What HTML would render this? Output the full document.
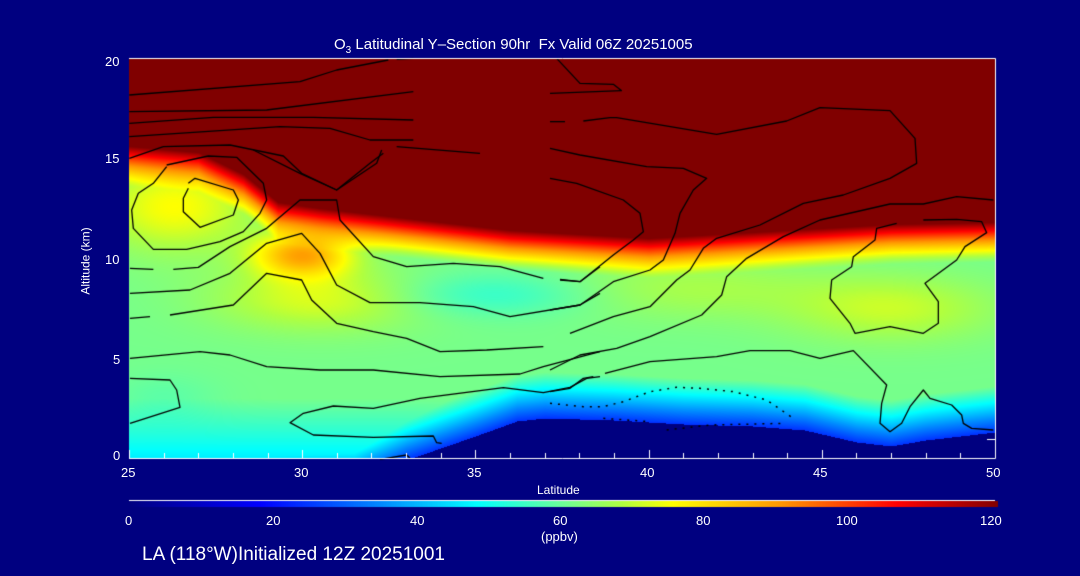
<!DOCTYPE html>
<html><head><meta charset="utf-8"><style>
html,body{margin:0;padding:0;background:#000080;}
#w{position:relative;width:1080px;height:576px;overflow:hidden;background:#000080;font-family:"Liberation Sans",sans-serif;color:#fff;}
.t{position:absolute;white-space:nowrap;font-size:13px;line-height:1;}
canvas{position:absolute;left:0;top:0;}
</style></head><body><div id="w">
<canvas id="c" width="1080" height="576"></canvas>
<div class="t" style="left:334px;top:37px;font-size:15px;">O<sub style="font-size:10px;">3</sub> Latitudinal Y&#8211;Section 90hr&nbsp; Fx Valid 06Z 20251005</div>
<div class="t" style="left:105px;top:55px;">20</div>
<div class="t" style="left:105px;top:152px;">15</div>
<div class="t" style="left:105px;top:253px;">10</div>
<div class="t" style="left:113px;top:353px;">5</div>
<div class="t" style="left:113px;top:449px;">0</div>
<div class="t" style="left:52px;top:255px;transform:rotate(-90deg);font-size:12px;">Altitude (km)</div>
<div class="t" style="left:121px;top:466px;">25</div>
<div class="t" style="left:294px;top:466px;">30</div>
<div class="t" style="left:467px;top:466px;">35</div>
<div class="t" style="left:640px;top:466px;">40</div>
<div class="t" style="left:813px;top:466px;">45</div>
<div class="t" style="left:986px;top:466px;">50</div>
<div class="t" style="left:537px;top:484px;font-size:12px;">Latitude</div>
<div class="t" style="left:125px;top:514px;">0</div>
<div class="t" style="left:266px;top:514px;">20</div>
<div class="t" style="left:410px;top:514px;">40</div>
<div class="t" style="left:553px;top:514px;">60</div>
<div class="t" style="left:696px;top:514px;">80</div>
<div class="t" style="left:836px;top:514px;">100</div>
<div class="t" style="left:980px;top:514px;">120</div>
<div class="t" style="left:541px;top:530px;">(ppbv)</div>
<div class="t" style="left:142px;top:545px;font-size:19px;">LA (118°W)Initialized 12Z 20251001</div>
</div>
<script>
const cv=document.getElementById('c'),ctx=cv.getContext('2d');
const X0=129,X1=995,Y0=58,Y1=458;
const sx=(X1-X0)/25, sy=(Y1-Y0)/20;
function pl(pts,x){for(let i=0;i<pts.length-1;i++){if(x<=pts[i+1][0]){const a=pts[i],b=pts[i+1];return a[1]+(b[1]-a[1])*(x-a[0])/(b[0]-a[0]);}}return pts[pts.length-1][1];}
const trop=[[25,15.6],[27,15.3],[28.3,14.2],[29.3,12.8],[30.5,12.5],[33,12.0],[36,11.4],[40,11.0],[44,11.4],[47,11.7],[50,11.8]];
const terr=[[25,-1.5],[31.5,-1.2],[33,-0.1],[34,0.5],[35,1.1],[36.2,1.85],[37,2.0],[39,1.9],[41,1.7],[43,1.6],[44.5,1.4],[46,0.8],[47,0.6],[48,0.9],[50,1.3]];
const stops=[[0,[0,0,128]],[18,[0,0,255]],[35,[0,140,255]],[48,[0,255,255]],[60,[110,255,150]],[68,[176,255,64]],[75,[255,255,0]],[90,[255,150,0]],[106,[255,0,0]],[120,[128,0,0]]];
function cmap(v){v=Math.max(0,Math.min(120,v));for(let i=0;i<stops.length-1;i++){if(v<=stops[i+1][0]){const a=stops[i],b=stops[i+1],f=(v-a[0])/(b[0]-a[0]);return [0,1,2].map(k=>Math.round(a[1][k]+(b[1][k]-a[1][k])*f));}}return stops[9][1];}
function g(l,a,cl,ca,wl,wa){const dl=(l-cl)/wl,da=(a-ca)/wa;return Math.exp(-(dl*dl+da*da));}
function field(lat,alt){
 const T=pl(trop,lat);const tr=pl(terr,lat);
 if(alt<tr)return 0;
 let v=61;
 v+=14*g(lat,alt,26.3,12.6,2.2,2.2);
 v+=26*g(lat,alt,30,10.2,1.4,1.1);
 v+=11*g(lat,alt,30.5,8,3,1.6);
 v-=8*g(lat,alt,35.5,8.2,3,1.1);
 v+=9*g(lat,alt,47,7.5,3,1.6);
 v+=6*g(lat,alt,41,8.5,4,1.5);
 v-=3*g(lat,alt,26,3,1.5,1.2);
 if(alt<3)v-=(3-alt)*5;
 {const d=alt-tr;v=Math.min(v,24+d*16);}
 const t=alt-T;
 if(t>0)return 120;
 if(t>-2){const f=(t+2)/2;v=v+(120-v)*Math.pow(f,1.2);}
 return v;
}
const img=ctx.createImageData(X1-X0,Y1-Y0);
for(let y=0;y<Y1-Y0;y++)for(let x=0;x<X1-X0;x++){
 const lat=25+x/sx,alt=20-y/sy;const c=cmap(field(lat,alt));const i=(y*(X1-X0)+x)*4;
 img.data[i]=c[0];img.data[i+1]=c[1];img.data[i+2]=c[2];img.data[i+3]=255;}
ctx.putImageData(img,X0,Y0);
ctx.strokeStyle='#000';ctx.lineWidth=1.3;ctx.lineJoin='round';
function L(pts,ox,oy,close){ctx.beginPath();pts.forEach((p,i)=>{const x=ox+p[0]/3,y=oy+p[1]/3;i?ctx.lineTo(x,y):ctx.moveTo(x,y);});if(close)ctx.closePath();ctx.stroke();}
const z4=[
[[205,100],[225,85],[340,120],[355,150],[340,195],[240,232],[190,185],[190,145],[205,115]],
[[140,45],[265,18],[350,22],[430,100],[440,150],[420,190],[370,245],[300,275],[200,298],[100,298],[40,235],[35,180],[55,130],[100,100],[140,50]],
[[30,355],[100,358]],[[160,358],[235,352],[330,290],[440,235],[540,150],[650,150],[660,210],[760,320],[860,350],[1000,340],[1140,350],[1270,385]],[[1320,390],[1380,395],[1440,350]],
[[30,430],[210,420],[330,370],[440,280],[545,250],[600,310],[650,405],[750,458],[900,458],[1060,470],[1170,500],[1380,465],[1440,430]],
[[30,505],[90,500]],[[150,495],[340,465],[440,370],[545,390],[575,450],[650,520],[760,545],[860,565],[960,605],[1100,600],[1270,590]],
[[30,625],[240,605],[330,615],[440,650],[600,660],[760,660],[960,680],[1200,672],[1270,650],[1440,605]],
[[30,685],[150,690],[170,720],[180,772],[30,820]],
[[1440,680],[1400,685],[1350,712],[1270,728],[1150,713],[900,745],[760,775],[640,768],[550,790],[510,818],[580,855],[760,862],[940,858],[950,878],[965,880]],
[[780,928],[860,915],[870,925]],
[[400,0],[540,70],[650,120],[750,40],[790,10]]
];
z4.forEach(p=>L(p,120,150));
[[[148,195],[660,155],[770,120],[925,90]],[[950,88],[1000,85]],
 [[148,245],[560,240],[1000,185]],
 [[148,280],[400,262],[700,262],[1000,270]],
 [[148,320],[600,290],[750,295],[870,330],[1000,330]],
 [[148,385],[250,350],[450,345],[610,378],[665,430],[770,480],[890,400],[905,360]],[[950,350],[1200,370]]
].forEach(p=>L(p,80,30));
[[[20,55],[90,130],[190,133],[215,152]],[[0,160],[215,152]],
 [[0,245],[45,245]],[[100,243],[180,233],[200,233],[500,283],[710,243],[810,203],[1020,212],[1095,295],[1100,370],[1020,415],[880,465],[760,490],[630,555],[500,595],[460,625],[420,690],[380,720],[300,800],[190,830],[60,880]],
 [[0,325],[90,345],[290,380],[400,385],[470,415],[430,450],[390,520],[375,580],[340,660],[300,690],[190,725],[90,795],[0,810]],
 [[0,415],[80,430],[220,480],[270,520],[280,575],[250,600],[190,645],[90,725],[30,718]],
 [[1330,480],[1220,470],[1120,492],[1020,492],[810,540],[700,590],[590,655],[530,710],[515,765],[455,825],[300,890],[200,925],[90,945],[0,990]],
 [[1120,540],[1220,538],[1295,545],[1310,578],[1245,620],[1220,660],[1125,730],[1165,785],[1165,850],[1120,880],[1020,860],[915,880],[900,850],[840,775],[845,720],[905,680],[910,650],[975,600],[980,565],[1040,550]],
 [[0,1055],[60,1045],[100,1015],[130,1010]],[[165,1000],[300,965],[500,950],[600,932],[720,932],[810,955],[910,932],[1010,1035],[995,1090],[990,1150],[1020,1175],[1055,1150],[1080,1100],[1120,1050],[1140,1075],[1205,1095],[1235,1125],[1240,1150],[1265,1165],[1330,1170]]
].forEach(p=>L(p,550,40));
ctx.setLineDash([2,6]);ctx.lineWidth=1.5;
[[[0,1090],[100,1100],[160,1100],[220,1085],[300,1055],[380,1042],[450,1045],[550,1055],[650,1080],[730,1135]],[[160,1135],[300,1145]],[[350,1170],[480,1155],[700,1150]]].forEach(p=>L(p,550,40));
ctx.setLineDash([]);
ctx.strokeStyle='#fff';ctx.lineWidth=1;
ctx.beginPath();ctx.moveTo(X0,Y0+0.5);ctx.lineTo(X1+0.5,Y0+0.5);ctx.lineTo(X1+0.5,Y1+0.5);ctx.lineTo(X0,Y1+0.5);ctx.stroke();
for(let i=0;i<=25;i++){const x=Math.round(X0+i*sx)+0.5;ctx.beginPath();ctx.moveTo(x,Y1);ctx.lineTo(x,Y1-(i%5==0?8:5));ctx.stroke();}
ctx.beginPath();ctx.moveTo(X1-8,439.5);ctx.lineTo(X1,439.5);ctx.stroke();
ctx.beginPath();ctx.moveTo(129,500.5);ctx.lineTo(995,500.5);ctx.stroke();
for(let x=129;x<998;x++){const c=cmap((x-129)/(998-129)*120);ctx.fillStyle=`rgb(${c[0]},${c[1]},${c[2]})`;ctx.fillRect(x,501,1,6);}
</script></body></html>
